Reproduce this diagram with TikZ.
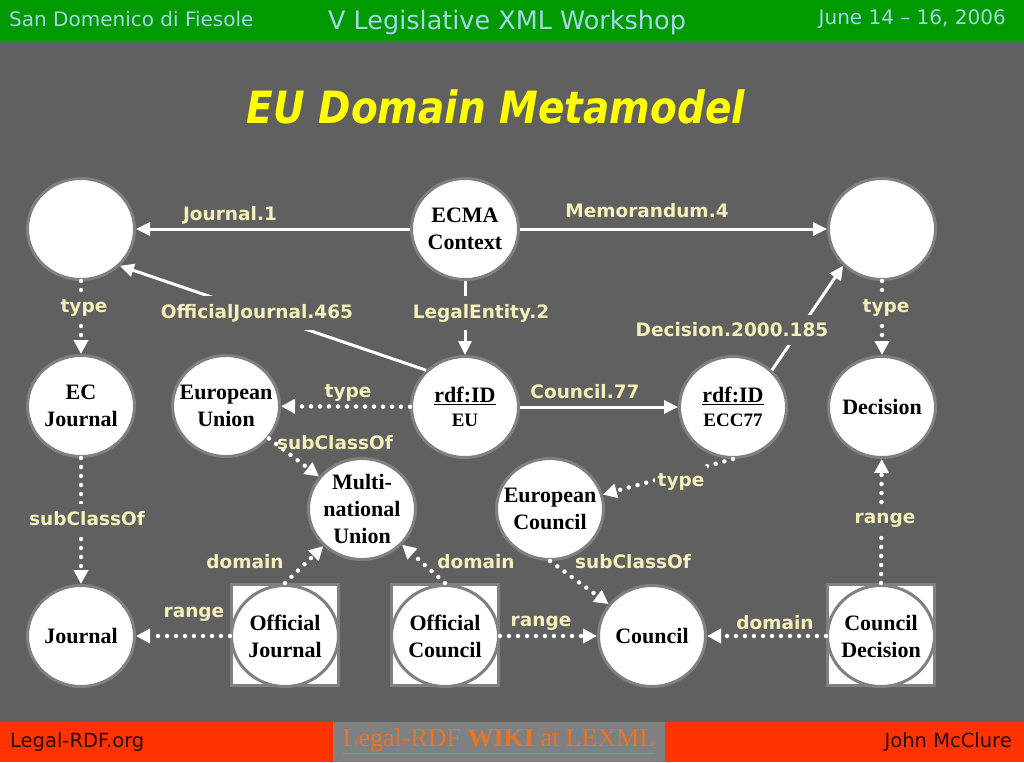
\documentclass[tikz,border=0pt]{standalone}
\usepackage{fontspec}
\setmainfont{Liberation Serif}
\newfontfamily\hdfont{DejaVu Sans}
\usetikzlibrary{shapes.geometric,arrows.meta}
\definecolor{bg}{RGB}{96,96,96}
\definecolor{hdgreen}{RGB}{0,153,0}
\definecolor{hdtext}{RGB}{165,215,230}
\definecolor{ttl}{RGB}{255,255,0}
\definecolor{lblc}{RGB}{245,240,185}
\definecolor{ftred}{RGB}{255,51,0}
\definecolor{ftgray}{RGB}{128,128,128}
\definecolor{ftlink}{RGB}{235,115,35}
\definecolor{fttext}{RGB}{40,10,0}
\definecolor{rim}{RGB}{128,128,128}
\begin{document}
\begin{tikzpicture}[x=1pt,y=-1pt,
 cnode/.style={ellipse, draw=rim, line width=3pt, fill=white, minimum width=107pt, minimum height=101pt, inner sep=-12pt, align=center, text=black, font=\bfseries\fontsize{22}{27}\selectfont},
 sqbox/.style={rectangle, draw=rim, line width=3pt, fill=white, minimum width=107pt, minimum height=101pt, inner sep=0pt},
 solidarr/.style={draw=white, line width=3pt, -{Triangle[length=14pt,width=13pt]}},
 dotarr/.style={draw=white, line width=4.5pt, line cap=round, dash pattern=on 0pt off 9pt, -{Triangle[length=14pt,width=14pt]}},
 lbl/.style={text=lblc, font=\hdfont\bfseries\fontsize{18.5}{20}\selectfont, inner sep=1pt},
 cutlbl/.style={lbl, fill=bg, inner xsep=3pt, inner ysep=8pt},
 hdtxt/.style={text=hdtext, font=\hdfont\fontsize{20}{24}\selectfont, inner sep=0pt},
 fttxt/.style={text=fttext, font=\hdfont\fontsize{19.5}{24}\selectfont, inner sep=0pt}
]
\useasboundingbox (0,0) rectangle (1024,762);
% bands
\fill[hdgreen] (0,0) rectangle (1024,41);
\fill[bg] (0,41) rectangle (1024,722);
\fill[ftred] (0,722) rectangle (1024,762);
\fill[ftgray] (333,722) rectangle (665,762);
% header / footer texts
\node[hdtxt, anchor=west] (h1) at (9,19) {San Domenico di Fiesole};
\node[hdtxt, font=\hdfont\fontsize{25.5}{28}\selectfont] (h2) at (507,22) {V Legislative XML Workshop};
\node[hdtxt, anchor=east] (h3) at (1006,19) {June 14 – 16, 2006};
\node[text=ttl, font=\hdfont\bfseries\itshape\fontsize{39}{42}\selectfont] (title) at (496,107) {\scalebox{1}[1.14]{EU Domain Metamodel}};
\node[fttxt, anchor=west] (f1) at (10,742) {Legal-RDF.org};
\node[fttxt, anchor=east] (f3) at (1012,742) {John McClure};
\node[text=ftlink, font=\fontsize{26}{28}\selectfont, inner sep=0pt] (f2) at (499,741) {\underline{Legal-RDF \textbf{WIKI} at LEXML}};
% nodes
\node[cnode] (tl) at (81,229) {};
\node[cnode] (ecma) at (465,229) {ECMA\\Context};
\node[cnode] (tr) at (882,229) {};
\node[cnode] (ecj) at (81,406) {EC\\Journal};
\node[cnode] (eun) at (226,406) {European\\Union};
\node[cnode] (eu) at (465,407) {\underline{rdf:ID}\\[-3pt]{\fontsize{19}{22}\selectfont EU}};
\node[cnode] (ecc) at (733,407) {\underline{rdf:ID}\\[-3pt]{\fontsize{19}{22}\selectfont ECC77}};
\node[cnode] (dec) at (882,407) {Decision};
\node[cnode] (mnu) at (362,509) {Multi-\\national\\Union};
\node[cnode] (euc) at (550,509) {European\\Council};
\node[cnode] (jou) at (81,636) {Journal};
\node[sqbox] (ojbox) at (285,635) {};
\node[cnode] (oj) at (285,636) {Official\\Journal};
\node[sqbox] (ocbox) at (445,635) {};
\node[cnode] (oc) at (445,636) {Official\\Council};
\node[cnode] (cou) at (652,636) {Council};
\node[sqbox] (cdbox) at (881,635) {};
\node[cnode] (cd) at (881,636) {Council\\Decision};
% solid arrows
\draw[solidarr] (ecma) -- (tl);
\draw[solidarr] (ecma) -- (tr);
\draw[solidarr] (ecma) -- (eu);
\draw[solidarr] (eu.north west) -- (tl.south east);
\draw[solidarr] (eu) -- (ecc);
\draw[solidarr] (ecc.north east) -- (tr.south west);
% dotted arrows
\draw[dotarr] (tl) -- (ecj);
\draw[dotarr] (tr) -- (dec);
\draw[dotarr] (eu) -- (eun);
\draw[dotarr] (eun) -- (mnu);
\draw[dotarr] (ecj) -- (jou);
\draw[dotarr] (ojbox.north) -- (mnu);
\draw[dotarr] (oj) -- (jou);
\draw[dotarr] (ocbox.north) -- (mnu);
\draw[dotarr] (oc) -- (cou);
\draw[dotarr] (ecc.south) -- (euc);
\draw[dotarr] (euc.south) -- (cou);
\draw[dotarr] (cd) -- (cou);
\draw[dotarr] (cdbox.north) -- (dec);
% labels
\node[lbl] (l1) at (230,215) {Journal.1};
\node[lbl] (l2) at (647,211) {Memorandum.4};
\node[cutlbl] (l3) at (481,313) {LegalEntity.2};
\node[cutlbl] (l4) at (257,313) {OfficialJournal.465};
\node[cutlbl] (l5) at (732,330) {Decision.2000.185};
\node[cutlbl] (l6) at (84,308) {type};
\node[cutlbl] (l7) at (886,308) {type};
\node[lbl] (l8) at (348,393) {type};
\node[lbl] (l9) at (585,392) {Council.77};
\node[lbl] (l10) at (335,443) {subClassOf};
\node[cutlbl] (l11) at (681,482) {type};
\node[cutlbl] (l12) at (87,519) {subClassOf};
\node[cutlbl] (l13) at (885,520) {range};
\node[lbl] (l14) at (245,562) {domain};
\node[lbl] (l15) at (476,562) {domain};
\node[lbl] (l16) at (633,562) {subClassOf};
\node[lbl] (l17) at (194,614) {range};
\node[lbl] (l18) at (541,623) {range};
\node[lbl] (l19) at (775,623) {domain};
\end{tikzpicture}
\end{document}
